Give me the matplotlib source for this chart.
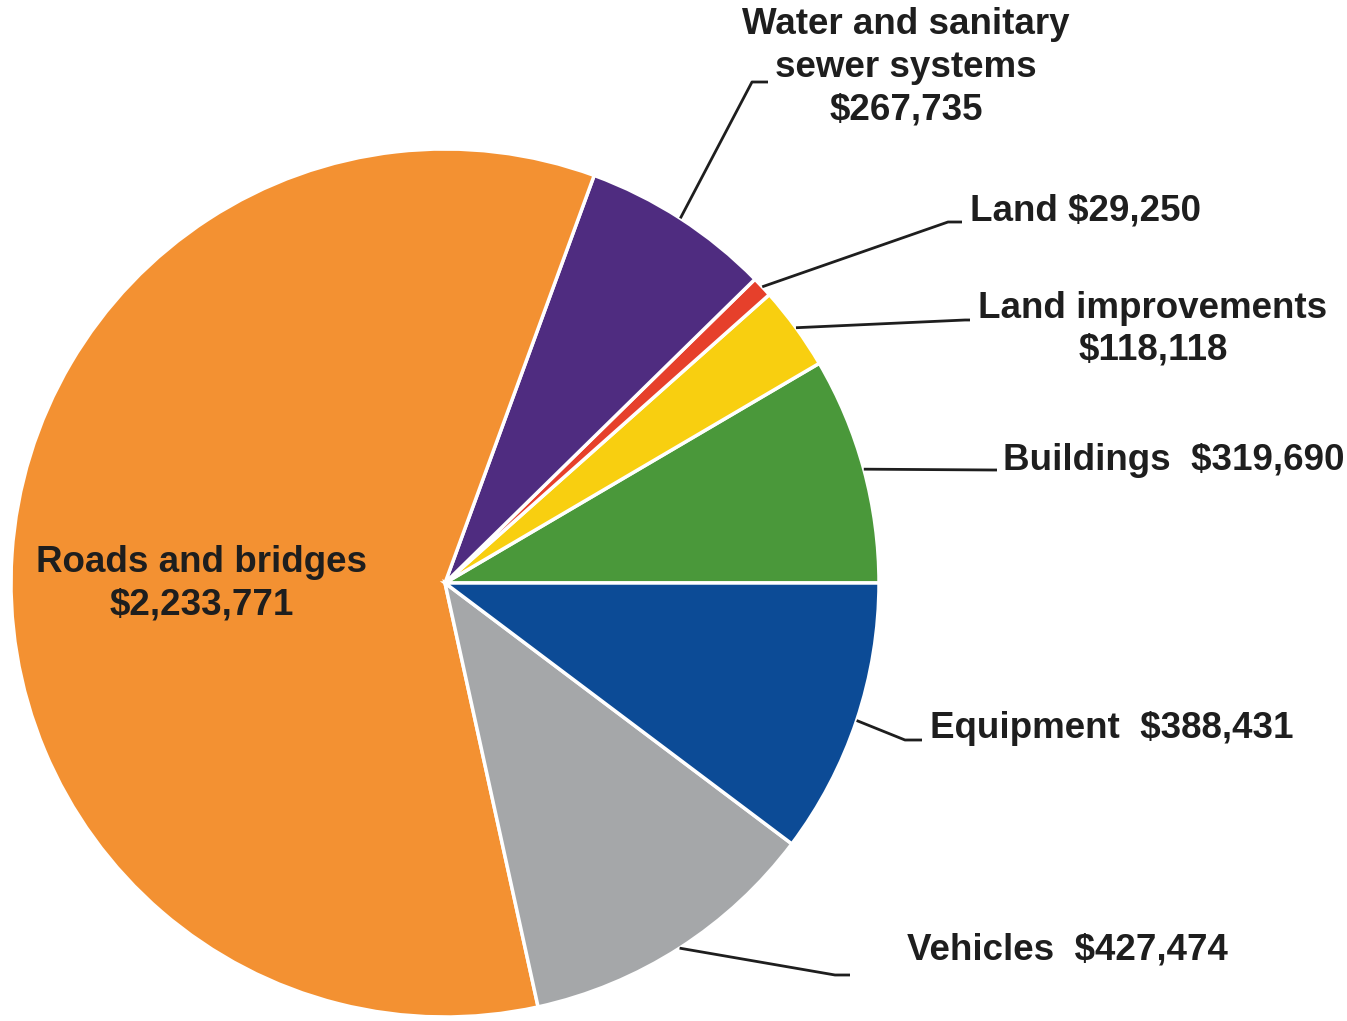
import numpy as np
import matplotlib.pyplot as plt

# capital assets by category (counter-clockwise from 3 o'clock)
categories = ["Buildings", "Land improvements", "Land",
              "Water and sanitary sewer systems", "Roads and bridges",
              "Vehicles", "Equipment"]
values = [319690, 118118, 29250, 267735, 2233771, 427474, 388431]
colors = ["#4a983a", "#f8cf10", "#e6402b", "#4f2c80",
          "#f39132", "#a5a7a9", "#0c4b96"]

W, H = 1347, 1021
CX, CY, R = 445, 583, 434
TXT = "#1e1e1e"
FS = 26.5


def py(y):
    return H - y


fig = plt.figure(figsize=(W / 100, H / 100), dpi=100)
ax = fig.add_axes([0, 0, 1, 1])

wedges, _ = ax.pie(values, colors=colors, startangle=0, counterclock=True,
                   center=(CX, py(CY)), radius=R, frame=True,
                   wedgeprops=dict(edgecolor="white", linewidth=2.5))
ax.set_xlim(0, W)
ax.set_ylim(0, H)
ax.set_aspect("equal")
ax.axis("off")


def edge_point(w):
    mid = np.deg2rad((w.theta1 + w.theta2) / 2)
    return CX + R * np.cos(mid), py(CY) + R * np.sin(mid)


# leader lines: elbow point and end point (pixel layout)
leaders = {
    "Water and sanitary sewer systems": [(752, 82), (768, 82)],
    "Land": [(948, 222), (962, 222)],
    "Land improvements": [(965, 320), (970, 320)],
    "Buildings": [(993, 470), (997, 470)],
    "Equipment": [(905, 740), (922, 740)],
    "Vehicles": [(835, 975), (850, 975)],
}
for w, name in zip(wedges, categories):
    if name not in leaders:
        continue
    x0, y0 = edge_point(w)
    pts = leaders[name]
    xs = [x0] + [p[0] for p in pts]
    ys = [y0] + [py(p[1]) for p in pts]
    ax.plot(xs, ys, color=TXT, linewidth=2.0, solid_capstyle="butt")

vals = dict(zip(categories, values))


def money(v):
    return f"${v:,}"


def label(x, y, s, ha="left"):
    ax.text(x, py(y), s, ha=ha, va="center", fontsize=FS,
            fontweight="bold", family="Liberation Sans", color=TXT)


label(906, 25, "Water and sanitary", ha="center")
label(906, 68, "sewer systems", ha="center")
label(906, 110, money(vals["Water and sanitary sewer systems"]), ha="center")
label(970, 211, "Land " + money(vals["Land"]))
label(978, 308, "Land improvements")
label(1153, 350, money(vals["Land improvements"]), ha="center")
label(1003, 460, "Buildings  " + money(vals["Buildings"]))
label(930, 729, "Equipment  " + money(vals["Equipment"]))
label(907, 950, "Vehicles  " + money(vals["Vehicles"]))
label(202, 563, "Roads and bridges", ha="center")
label(202, 605, money(vals["Roads and bridges"]), ha="center")

fig.savefig("out.png", dpi=100, facecolor="white")
